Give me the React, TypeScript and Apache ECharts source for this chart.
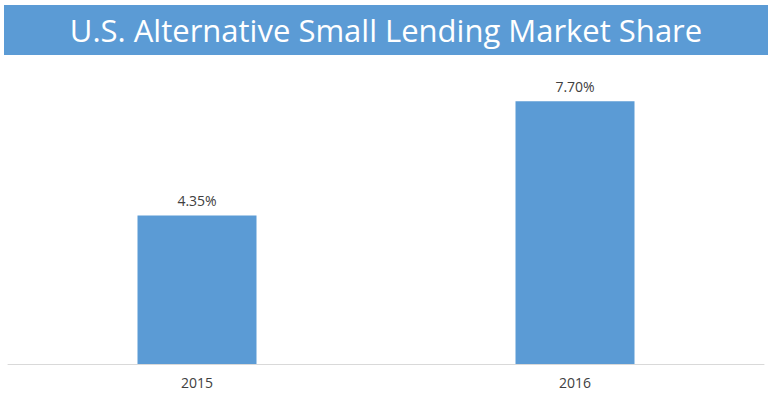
import React, { useEffect, useRef } from "react";
import * as echarts from "echarts";

const title = "U.S. Alternative Small Lending Market Share";
const categories = ["2015", "2016"];
const shareValues = [4.35, 7.7];

export default function App() {
  const ref = useRef<HTMLDivElement>(null);
  useEffect(() => {
    if (!ref.current) return;
    const chart = echarts.init(ref.current, null, { renderer: "svg" });
    chart.setOption({
      animation: false,
      backgroundColor: "#ffffff",
      graphic: [
        {
          type: "rect",
          shape: { x: 4, y: 5, width: 764, height: 50 },
          style: { fill: "#5b9bd5" },
        },
        {
          type: "text",
          x: 386,
          y: 30,
          style: {
            text: title,
            fill: "#ffffff",
            fontSize: 31,
            fontFamily: "Open Sans",
            align: "center",
            verticalAlign: "middle",
          },
        },
      ],
      grid: { left: 8, right: 8, top: 57, bottom: 35, containLabel: false },
      xAxis: {
        type: "category",
        data: categories,
        axisLine: { show: true, lineStyle: { color: "#d9d9d9", width: 1 } },
        axisTick: { show: false },
        axisLabel: { color: "#404040", fontSize: 14, fontFamily: "Open Sans", margin: 11 },
      },
      yAxis: {
        type: "value",
        min: 0,
        max: 9,
        show: false,
        splitLine: { show: false },
      },
      series: [
        {
          type: "bar",
          data: shareValues,
          barWidth: 119,
          itemStyle: { color: "#5b9bd5" },
          label: {
            show: true,
            position: "top",
            distance: 8,
            color: "#404040",
            fontSize: 14,
            fontFamily: "Open Sans",
            formatter: (p: any) => p.value.toFixed(2) + "%",
          },
        },
      ],
    });
    return () => chart.dispose();
  }, []);
  return <div ref={ref} style={{ width: 772, height: 399, position: "absolute", left: 0, top: 0 }} />;
}
